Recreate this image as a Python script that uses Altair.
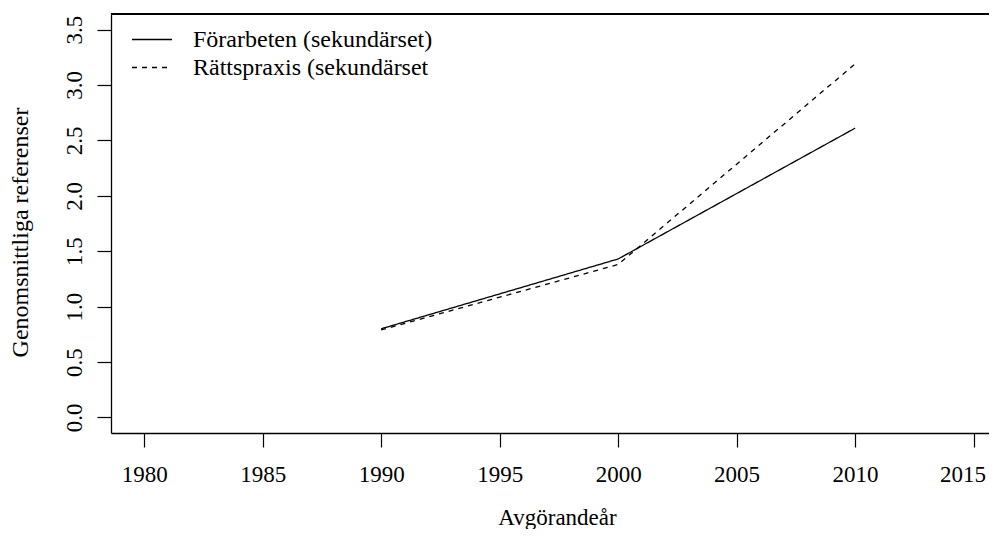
import altair as alt
import pandas as pd

years = [1990, 2000, 2010]
forarbeten = [0.80, 1.43, 2.61]
rattspraxis = [0.79, 1.38, 3.19]
series_names = ["Förarbeten (sekundärset)", "Rättspraxis (sekundärset"]
x_ticks = [1980, 1985, 1990, 1995, 2000, 2005, 2010, 2015]
y_ticks = [0.0, 0.5, 1.0, 1.5, 2.0, 2.5, 3.0, 3.5]

rows = []
for y, v in zip(years, forarbeten):
    rows.append({"year": y, "value": v, "series": series_names[0]})
for y, v in zip(years, rattspraxis):
    rows.append({"year": y, "value": v, "series": series_names[1]})
df = pd.DataFrame(rows)

FONT = "Liberation Serif"
W, H = 878, 419

lines = alt.Chart(df).mark_line(color="black", strokeWidth=1.3).encode(
    x=alt.X("year:Q",
            scale=alt.Scale(domain=[1978.6, 2015.65], nice=False, zero=False),
            axis=alt.Axis(values=x_ticks, format="d", title="Avgörandeår",
                          grid=False, tickSize=14, tickColor="black", tickWidth=1.2,
                          domainColor="black", domainWidth=1.3,
                          labelFont=FONT, labelFontSize=23, labelColor="black",
                          labelBaseline="alphabetic", labelPadding=34,
                          labelOffset=alt.condition("datum.value == 2015", alt.value(-11), alt.value(0)),
                          labelFlush=False, labelOverlap=False,
                          titleFont=FONT, titleFontSize=23, titleFontWeight="normal",
                          titleColor="black", titleBaseline="alphabetic",
                          titleY=91, titleX=446, titleAlign="center")),
    y=alt.Y("value:Q",
            scale=alt.Scale(domain=[-0.14, 3.64], nice=False, zero=False),
            axis=alt.Axis(values=y_ticks, format=".1f", title="Genomsnittliga referenser",
                          grid=False, tickSize=14, tickColor="black", tickWidth=1.2,
                          domainColor="black", domainWidth=1.3,
                          labelFont=FONT, labelFontSize=23, labelColor="black",
                          labelAngle=270, labelAlign="center", labelBaseline="alphabetic",
                          labelPadding=16, labelFlush=False, labelOverlap=False,
                          titleFont=FONT, titleFontSize=24, titleFontWeight="normal",
                          titleColor="black", titleAngle=270, titleBaseline="alphabetic",
                          titleX=-84, titleY=218, titleAlign="center")),
    strokeDash=alt.StrokeDash("series:N",
                              scale=alt.Scale(domain=series_names, range=[[1, 0], [5, 5]]),
                              legend=alt.Legend(title=None, orient="none", legendX=20, legendY=14,
                                                symbolType="stroke", symbolSize=1600,
                                                symbolStrokeWidth=1.3, symbolStrokeColor="black",
                                                labelFont=FONT, labelFontSize=24, labelColor="black",
                                                labelOffset=20, rowPadding=3, padding=0,
                                                clipHeight=23, labelLimit=400)),
)

top_edge = alt.Chart(df).mark_rule(color="black", strokeWidth=1.3).encode(
    x=alt.value(0), x2=alt.value(W), y=alt.value(0)
)

chart = alt.layer(lines, top_edge).properties(
    width=W, height=H,
    autosize=alt.AutoSizeParams(type="none"),
    padding={"left": 103, "top": 6, "right": 0, "bottom": 96},
).configure_view(stroke=None).configure(background="white")

chart.save("out.html", embed_options={"renderer": "svg", "actions": False})
